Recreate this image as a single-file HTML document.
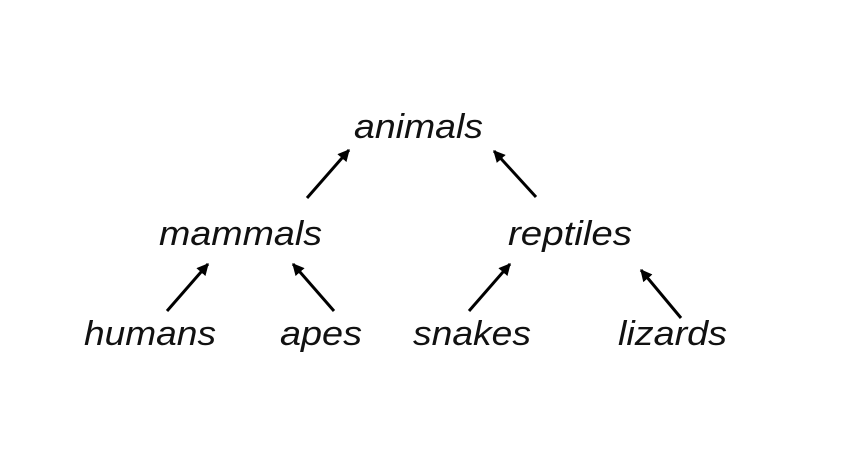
<!DOCTYPE html>
<html><head><style>html,body{margin:0;padding:0;background:#fff}svg{display:block}</style></head>
<body>
<svg width="841" height="476" xmlns="http://www.w3.org/2000/svg">
<defs><marker id="a" viewBox="0 0 10 10" refX="9" refY="5" markerWidth="4" markerHeight="4" orient="auto"><path d="M0,0 L10,5 L0,10 z" fill="#000"/></marker></defs>
<g font-family="Liberation Sans, sans-serif" font-style="italic" font-size="34" fill="#111">
<text x="354" y="138" textLength="129" lengthAdjust="spacingAndGlyphs">animals</text>
<text x="159" y="245" textLength="163" lengthAdjust="spacingAndGlyphs">mammals</text>
<text x="508" y="245" textLength="124" lengthAdjust="spacingAndGlyphs">reptiles</text>
<text x="84" y="345" textLength="132" lengthAdjust="spacingAndGlyphs">humans</text>
<text x="280" y="345" textLength="82" lengthAdjust="spacingAndGlyphs">apes</text>
<text x="413" y="345" textLength="118" lengthAdjust="spacingAndGlyphs">snakes</text>
<text x="618" y="345" textLength="109" lengthAdjust="spacingAndGlyphs">lizards</text>
</g>
<g stroke="#000" stroke-width="3" marker-end="url(#a)">
<line x1="307" y1="198" x2="349" y2="150"/>
<line x1="536" y1="197" x2="494" y2="151"/>
<line x1="167" y1="311" x2="208" y2="264"/>
<line x1="334" y1="311" x2="293" y2="264"/>
<line x1="469" y1="311" x2="510" y2="264"/>
<line x1="681" y1="318" x2="641" y2="270"/>
</g>
</svg>
</body></html>
